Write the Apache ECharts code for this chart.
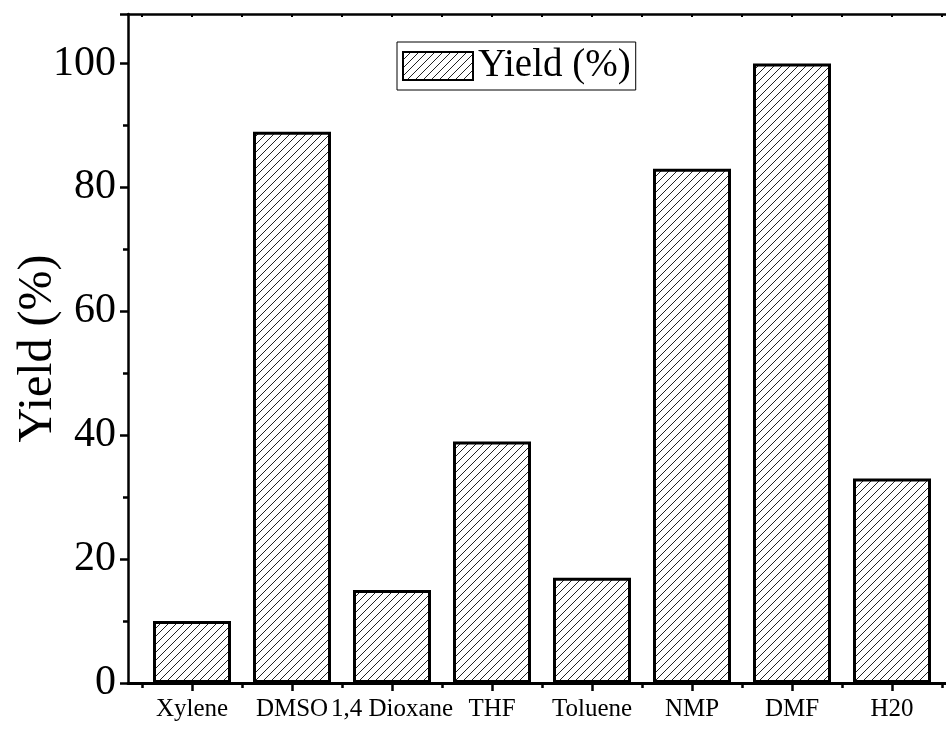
<!DOCTYPE html>
<html>
<head>
<meta charset="utf-8">
<script src="https://cdn.jsdelivr.net/npm/echarts@6/dist/echarts.min.js"></script>
<style>html,body{margin:0;padding:0;background:#fff}#c{width:946px;height:732px}</style>
</head>
<body>
<div id="c"></div>
<script>
const categories = ['Xylene', 'DMSO', '1,4 Dioxane', 'THF', 'Toluene', 'NMP', 'DMF', 'H20'];
const yieldValues = [10, 89, 15, 39, 17, 83, 100, 33];
const seriesName = 'Yield (%)';
const yAxisTitle = 'Yield (%)';

const FONT = 'Liberation Serif';

// hatch pattern "/"
const tile = document.createElement('canvas');
tile.width = 8; tile.height = 8;
const tc = tile.getContext('2d');
tc.fillStyle = '#fff';
tc.fillRect(0, 0, 8, 8);
tc.strokeStyle = '#222';
tc.lineWidth = 1;
tc.beginPath();
tc.moveTo(-2, 10); tc.lineTo(10, -2);
tc.moveTo(-6, 6); tc.lineTo(6, -6);
tc.moveTo(2, 14); tc.lineTo(14, 2);
tc.stroke();

const chart = echarts.init(document.getElementById('c'), null, {renderer: 'canvas'});

const axisLineStyle = {color: '#000', width: 2.5};

const option = {
  animation: false,
  backgroundColor: '#fff',
  textStyle: {fontFamily: FONT, color: '#000'},
  legend: {
    show: true,
    left: 397,
    top: 42,
    orient: 'horizontal',
    backgroundColor: '#fff',
    borderColor: '#000',
    borderWidth: 1,
    padding: [4, 5, 4, 5],
    itemWidth: 70,
    itemHeight: 28,
    icon: 'rect',
    textStyle: {fontFamily: FONT, fontSize: 39, color: '#000', lineHeight: 40},
    data: [seriesName]
  },
  grid: [
    {left: 142, right: 4, top: 14, bottom: 49, containLabel: false, outerBoundsMode: 'none'},
    {left: 128, width: 830, top: 14, bottom: 49, containLabel: false, outerBoundsMode: 'none'}
  ],
  xAxis: [
    {
      gridIndex: 0, type: 'category', position: 'bottom', data: categories,
      axisLine: {show: true, lineStyle: {color: '#000', width: 3}},
      axisTick: {show: true, alignWithLabel: true, length: 8, lineStyle: {color: '#000', width: 2.5}},
      axisLabel: {show: true, interval: 0, hideOverlap: false, fontFamily: FONT, fontSize: 25, color: '#000', margin: 14},
      splitLine: {show: false}
    },
    {
      gridIndex: 0, type: 'category', position: 'bottom', data: categories,
      axisLine: {show: false},
      axisTick: {show: true, alignWithLabel: false, length: 5, lineStyle: {color: '#000', width: 2.5}},
      axisLabel: {show: false},
      splitLine: {show: false}
    },
    {
      gridIndex: 0, type: 'category', position: 'top', data: categories,
      axisLine: {show: false},
      axisTick: {show: true, inside: true, alignWithLabel: true, length: 3, lineStyle: {color: '#000', width: 2}},
      axisLabel: {show: false},
      splitLine: {show: false}
    },
    {
      gridIndex: 0, type: 'category', position: 'top', data: categories,
      axisLine: {show: false},
      axisTick: {show: true, inside: true, alignWithLabel: false, length: 3, lineStyle: {color: '#000', width: 2}},
      axisLabel: {show: false},
      splitLine: {show: false}
    },
    {
      gridIndex: 1, type: 'value', position: 'bottom', min: 0, max: 1,
      axisLine: {show: true, lineStyle: {color: '#000', width: 3}},
      axisTick: {show: false}, axisLabel: {show: false}, splitLine: {show: false}
    },
    {
      gridIndex: 1, type: 'value', position: 'top', min: 0, max: 1,
      axisLine: {show: true, lineStyle: axisLineStyle},
      axisTick: {show: false}, axisLabel: {show: false}, splitLine: {show: false}
    }
  ],
  yAxis: [
    {
      gridIndex: 0, type: 'value', min: 0, max: 108, interval: 20, offset: 14,
      name: yAxisTitle, nameLocation: 'middle', nameGap: 66, nameRotate: 90, nameMoveOverlap: false,
      nameTextStyle: {fontFamily: FONT, fontSize: 48, color: '#000'},
      axisLine: {show: true, lineStyle: axisLineStyle},
      axisTick: {show: true, length: 8, lineStyle: {color: '#000', width: 2.5}},
      minorTick: {show: true, splitNumber: 2, length: 5, lineStyle: {color: '#000', width: 2.5}},
      axisLabel: {show: true, showMaxLabel: false, fontFamily: FONT, fontSize: 42, color: '#000', margin: 12},
      splitLine: {show: false}
    },
    {
      gridIndex: 1, type: 'value', min: 0, max: 1, show: false
    }
  ],
  series: [
    {
      name: seriesName,
      type: 'bar',
      xAxisIndex: 0,
      yAxisIndex: 0,
      barWidth: 78,
      data: yieldValues,
      itemStyle: {
        color: {image: tile, repeat: 'repeat'},
        borderColor: '#000',
        borderWidth: 3
      }
    }
  ]
};
chart.setOption(option);
</script>
</body>
</html>
